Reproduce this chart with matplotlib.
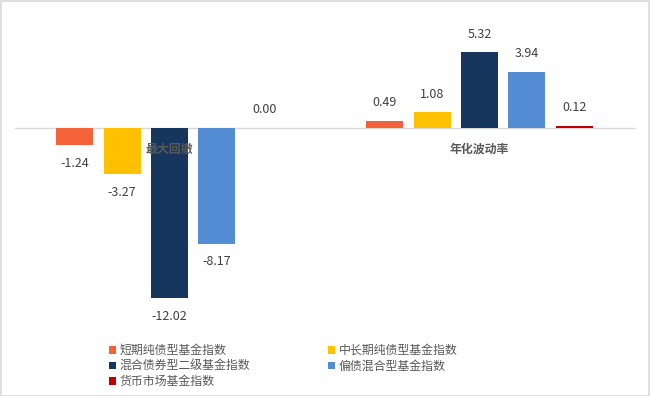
import matplotlib
matplotlib.use("Agg")
import matplotlib.pyplot as plt
from matplotlib.patches import Patch, Rectangle
import numpy as np

plt.rcParams['font.family'] = ['Noto Sans CJK SC', 'DejaVu Sans']

categories = ["最大回撤", "年化波动率"]
series_names = ["短期纯债型基金指数", "中长期纯债型基金指数", "混合债券型二级基金指数",
                "偏债混合型基金指数", "货币市场基金指数"]
values = [
    [-1.24, 0.49],
    [-3.27, 1.08],
    [-12.02, 5.32],
    [-8.17, 3.94],
    [0.00, 0.12],
]
colors = ["#F4623A", "#FFC000", "#17365D", "#548DD4", "#C00000"]

fig = plt.figure(figsize=(6.5, 3.96), dpi=100)
W, H = 650, 396
ax = fig.add_axes([14.5 / W, (H - 326.5) / H, 620 / W, 284 / H])

x = np.arange(len(categories))
width = 0.119
step = 0.153
n = len(series_names)
for i, (name, vals, c) in enumerate(zip(series_names, values, colors)):
    pos = x + (i - (n - 1) / 2) * step
    bars = ax.bar(pos, vals, width, color=c, label=name, zorder=1)
    for xb, v in zip(pos, vals):
        off = 13 if v >= 0 else -13
        ax.annotate(f"{v:.2f}", (xb, v), xytext=(0, off), textcoords="offset points",
                    ha="center", va="center", fontsize=9, color="#404040")

ax.set_xlim(-0.5, 1.5)
ax.set_ylim(-14, 6)
ax.set_yticks([])
for s in ["left", "right", "top"]:
    ax.spines[s].set_visible(False)
ax.spines["bottom"].set_position(("data", 0))
ax.spines["bottom"].set_color("#D9D9D9")
ax.spines["bottom"].set_linewidth(1.0)
ax.spines["bottom"].set_zorder(0.5)
ax.set_xticks(x)
ax.set_xticklabels(categories, fontsize=8.6, color="#595959", fontweight="bold")
ax.tick_params(axis="x", length=0, pad=11)
ax.patch.set_visible(False)

order = [0, 2, 4, 1, 3]
handles = [Patch(facecolor=colors[i], edgecolor="none") for i in order]
labels = [series_names[i] for i in order]
leg = fig.legend(handles, labels, loc="upper left", bbox_to_anchor=(109 / W, 1 - 344 / H),
                 ncol=2, frameon=False, fontsize=8.6, borderpad=0, borderaxespad=0,
                 handlelength=0.6, handleheight=0.6, handletextpad=0.3,
                 labelspacing=0.22, columnspacing=6.5)
for t in leg.get_texts():
    t.set_color("#595959")

fig.patches.append(Rectangle((0.5 / W, 0.5 / H), 1 - 1.5 / W, 1 - 1.5 / H, transform=fig.transFigure,
                             fill=False, edgecolor="#D9D9D9", linewidth=1.2))

fig.savefig("out.png", dpi=100)
